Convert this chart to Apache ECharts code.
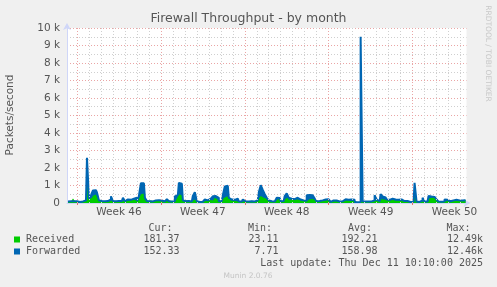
<!DOCTYPE html>
<html><head><meta charset="utf-8">
<script src="https://cdn.jsdelivr.net/npm/echarts@6/dist/echarts.min.js"></script>
<style>html,body{margin:0;padding:0;background:#f0f0f0}#c{width:497px;height:287px}</style>
</head><body><div id="c"></div>
<script>
// ---- data ----
const titleText = 'Firewall Throughput - by month';
const yAxisName = 'Packets/second';
const sideText = 'RRDTOOL / TOBI OETIKER';
const footerText = 'Munin 2.0.76';
const lastUpdate = 'Last update: Thu Dec 11 10:10:00 2025';
const seriesNames = ['Received', 'Forwarded'];
const weekLabels = ['Week 46', 'Week 47', 'Week 48', 'Week 49', 'Week 50'];
const weekStartHours = [0, 168, 336, 504, 672];
const statHeaders = ['Cur:', 'Min:', 'Avg:', 'Max:'];
const receivedStats = ['181.37', '23.11', '192.21', '12.49k'];
const forwardedStats = ['152.33', '7.71', '158.98', '12.46k'];
// samples every 4 hours, first sample 18 h before the start of week 46
const sampleStepHours = 4;
const firstSampleHour = -18;
const received = [
80,90,150,260,120,90,70,100,110,130,
1300,200,300,420,480,350,180,100,110,100,
120,150,220,130,110,160,150,130,180,110,
150,200,170,180,200,100,250,500,550,200,
130,150,100,110,120,130,120,110,80,100,
160,90,110,100,200,250,500,450,150,160,
140,150,100,200,250,90,60,60,90,140,
120,180,140,250,300,200,120,100,250,350,
400,300,150,130,100,150,80,90,120,110,
100,120,130,100,140,120,250,400,300,250,
200,120,100,90,100,200,250,110,100,220,
300,180,200,200,180,200,150,140,120,120,
200,220,230,200,180,100,100,120,130,150,
180,120,50,100,110,90,100,90,140,150,
150,120,130,140,50,40,50,9400,90,70,
70,80,80,120,200,150,100,230,200,180,
160,150,170,160,150,150,120,130,100,90,
100,50,50,60,400,70,50,100,180,70,
80,250,300,320,250,220,80,70,70,130,
130,100,90,120,150,200,150,160,180,181];
const forwarded = [
90,100,110,100,100,80,60,90,120,150,
2580,250,450,720,730,600,150,110,100,90,
110,200,380,120,100,110,100,120,300,110,
200,180,220,250,300,120,400,1130,1130,300,
110,100,90,100,150,160,150,140,90,130,
220,100,90,100,380,450,1150,1100,150,100,
110,100,90,400,620,100,60,70,120,200,
150,250,200,380,400,300,100,120,450,950,
980,300,200,180,120,250,90,80,200,100,
90,110,100,90,200,150,600,1020,750,500,
300,150,100,90,100,300,280,100,120,400,
550,300,250,220,300,300,200,180,150,130,
450,460,440,380,250,100,110,150,140,200,
210,150,60,150,140,100,90,100,200,210,
180,150,200,180,60,50,60,9500,100,80,
80,80,90,150,450,200,100,500,380,320,
200,180,250,240,200,180,150,200,110,100,
110,60,50,70,1150,80,60,150,300,80,
90,400,370,350,250,200,80,70,80,200,
180,100,100,150,180,250,150,140,150,152];

// ---- build ----
const hourOf = i => firstSampleHour + sampleStepHours * i;
const recData = received.map((v, i) => [hourOf(i), v]);
const fwdData = forwarded.map((v, i) => [hourOf(i), v]);
const weekMidHours = weekStartHours.map(h => h + 84);
const dayLines = [];
for (let h = 0; h <= 768; h += 24) if (h % 168 !== 0) dayLines.push({xAxis: h});
const weekLines = weekStartHours.map(h => ({xAxis: h}));

const FONT = 'DejaVu Sans';
const MONO = 'DejaVu Sans Mono';
const txtColor = '#555';
const colors = ['#00CC00', '#0066B3'];

const graphic = [
  {type:'text', x:248.5, y:19, style:{text:titleText, font:'12.5px "'+FONT+'"', fill:txtColor, textAlign:'center', textVerticalAlign:'middle'}},
  {type:'text', x:10, y:115, rotation:Math.PI/2, style:{text:yAxisName, font:'10.5px "'+FONT+'"', fill:txtColor, textAlign:'center', textVerticalAlign:'middle'}},
  {type:'text', x:487.5, y:53.5, rotation:-Math.PI/2, style:{text:sideText, font:'7.5px "'+FONT+'"', fill:'#c8c8c8', textAlign:'center', textVerticalAlign:'middle'}},
  {type:'text', x:248, y:276.5, style:{text:footerText, font:'7.5px "'+FONT+'"', fill:'#c4c4c4', textAlign:'center', textVerticalAlign:'middle'}},
  {type:'text', x:483, y:263.5, style:{text:lastUpdate, font:'10px "'+MONO+'"', fill:txtColor, textAlign:'right', textVerticalAlign:'middle'}}
];
const headerRight = [172.5, 272, 372, 470.5];
const valueRight = [179.5, 278.5, 377.5, 483];
statHeaders.forEach((h, k) => graphic.push({type:'text', x:headerRight[k], y:228, style:{text:h, font:'10px "'+MONO+'"', fill:txtColor, textAlign:'right', textVerticalAlign:'middle'}}));
const rowsY = [239.5, 251.5];
[receivedStats, forwardedStats].forEach((stats, r) => {
  graphic.push({type:'rect', shape:{x:14, y:rowsY[r]-3, width:6, height:6}, style:{fill:colors[r]}});
  graphic.push({type:'text', x:26, y:rowsY[r], style:{text:seriesNames[r], font:'10px "'+MONO+'"', fill:txtColor, textAlign:'left', textVerticalAlign:'middle'}});
  stats.forEach((s, k) => graphic.push({type:'text', x:valueRight[k], y:rowsY[r], style:{text:s, font:'10px "'+MONO+'"', fill:txtColor, textAlign:'right', textVerticalAlign:'middle'}}));
});

const chart = echarts.init(document.getElementById('c'), null, {renderer:'canvas'});
chart.setOption({
  backgroundColor:'#f0f0f0',
  animation:false,
  textStyle:{fontFamily:FONT},
  grid:{left:67, right:30.5, top:28, bottom:84, show:true, backgroundColor:'#ffffff', borderWidth:0},
  xAxis:{type:'value', min:-20, max:780,
    axisLine:{show:true, onZero:false, lineStyle:{color:'#CFD6F8', width:1}, symbol:['none','arrow'], symbolSize:[6,7], symbolOffset:[0,4]},
    axisTick:{show:true, customValues:weekStartHours, length:2, lineStyle:{color:'#e07070'}},
    axisLabel:{customValues:weekMidHours, color:txtColor, fontSize:10.5, fontFamily:FONT, margin:4,
      formatter:v => weekLabels[weekMidHours.indexOf(v)] || ''},
    splitLine:{show:false}},
  yAxis:{type:'value', min:0, max:10000, interval:1000,
    axisLine:{show:true, onZero:false, lineStyle:{color:'#CFD6F8', width:1}, symbol:['none','arrow'], symbolSize:[6,7], symbolOffset:[0,5]},
    axisTick:{show:false},
    axisLabel:{color:txtColor, fontSize:10.5, fontFamily:FONT, margin:7,
      formatter:v => v === 0 ? '0' : (v/1000) + ' k'},
    splitLine:{show:true, lineStyle:{color:'#eaa5a5', type:[1,2], width:1}},
    minorTick:{show:false, splitNumber:2},
    minorSplitLine:{show:true, lineStyle:{color:'#cfcfcf', type:[1,2], width:1}}},
  graphic:graphic,
  series:[
    {type:'line', data:[], z:1, silent:true,
      markLine:{silent:true, symbol:['none','none'], label:{show:false}, animation:false,
        lineStyle:{color:'#cfcfcf', type:[1,2], width:1}, data:dayLines}},
    {type:'line', data:[], z:1, silent:true,
      markLine:{silent:true, symbol:['none','none'], label:{show:false}, animation:false,
        lineStyle:{color:'#eaa5a5', type:[1,2], width:1}, data:weekLines}},
    {type:'line', data:fwdData, step:'middle', showSymbol:false, z:2, silent:true,
      lineStyle:{width:0}, areaStyle:{color:colors[1], opacity:1}, itemStyle:{color:colors[1]}},
    {name:seriesNames[0], type:'line', data:recData, step:'middle', showSymbol:false, z:3,
      lineStyle:{width:0}, areaStyle:{color:colors[0], opacity:1}, itemStyle:{color:colors[0]}},
    {name:seriesNames[1], type:'line', data:fwdData, step:'middle', showSymbol:false, z:4,
      lineStyle:{width:2, color:colors[1]}, itemStyle:{color:colors[1]}}
  ]
});
</script></body></html>
